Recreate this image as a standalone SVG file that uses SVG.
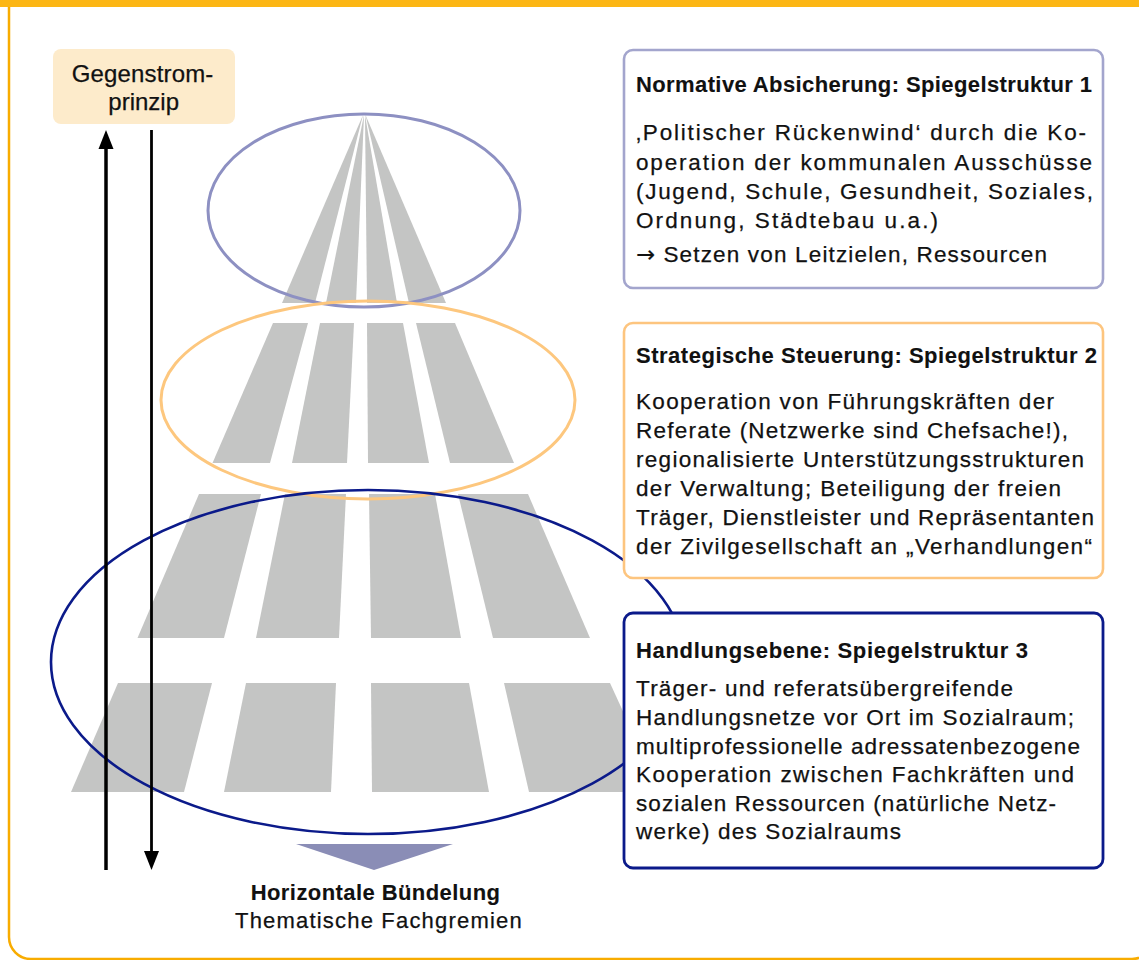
<svg xmlns="http://www.w3.org/2000/svg" width="1139" height="960" viewBox="0 0 1139 960">
<style>
  .t { font-family: "Liberation Sans", Arial, sans-serif; font-size: 22.5px; fill: #111; stroke: #111; stroke-width: 0.25px; }
  .b { font-weight: bold; font-size: 22px; stroke-width: 0.1px; }
  .big { font-size: 22px; }
  .g { font-size: 24px; }
  .arr { font-family: "DejaVu Sans", sans-serif; }
  .stripe { fill: #C4C5C4; }
  .ell { fill: none; }
  .box { fill: #fff; }
  .ln { stroke: #000; fill: none; }
  .head { fill: #000; }
</style>
<rect width="1139" height="960" fill="#fff"/>
<g id="frame">
  <rect x="9" y="-30" width="1145" height="989" rx="22" fill="none" stroke="#F8AC00" stroke-width="2.5"/>
  <rect x="0" y="0" width="1139" height="7" fill="#FCB614"/>
</g>
<g id="pyramid">
  <g id="tier1">
    <polygon class="stripe" points="363,115 315,303 282,303"/>
    <polygon class="stripe" points="364,115 356,303 326,303"/>
    <polygon class="stripe" points="365,115 397,303 367,303"/>
    <polygon class="stripe" points="365.5,115 446,303 409,303"/>
  </g>
  <g id="tier2">
    <polygon class="stripe" points="273,323 308,323 270,463 212.5,463"/>
    <polygon class="stripe" points="320,323 354,323 347,463 292,463"/>
    <polygon class="stripe" points="367,323 403,323 429,463 368,463"/>
    <polygon class="stripe" points="416,323 455,323 514,463 450,463"/>
  </g>
  <g id="tier3">
    <polygon class="stripe" points="199,494 261,494 224,638 137.5,638"/>
    <polygon class="stripe" points="285,494 346,494 339,638 256,638"/>
    <polygon class="stripe" points="369,494 435,494 461,638 371,638"/>
    <polygon class="stripe" points="458,494 528,494 590,638 493,638"/>
  </g>
  <g id="tier4">
    <polygon class="stripe" points="118,683 212,683 184,792 71,792"/>
    <polygon class="stripe" points="246,683 336,683 331,792 224,792"/>
    <polygon class="stripe" points="371,683 469,683 489,792 372,792"/>
    <polygon class="stripe" points="504,683 610,683 660,792 529,792"/>
  </g>
</g>
<g id="ellipse-1"><ellipse class="ell" cx="364" cy="210.5" rx="156" ry="96.5" stroke="#8D90C2" stroke-width="3"/></g>
<g id="ellipse-2"><ellipse class="ell" cx="368" cy="400" rx="207" ry="99" stroke="#FDC77E" stroke-width="3"/></g>
<g id="ellipse-3"><ellipse class="ell" cx="368" cy="662" rx="317" ry="172" stroke="#0B1A8A" stroke-width="2.6"/></g>
<g id="triangle"><polygon points="296,844 453,844 374,870" fill="#8A8DB6"/></g>

<g id="connectors">
  <line class="ln" x1="106" y1="870" x2="106" y2="146" stroke-width="3.5"/>
  <polygon class="head" points="106,130 98.5,149 113.5,149"/>
  <line class="ln" x1="151.5" y1="130" x2="151.5" y2="854" stroke-width="2.8"/>
  <polygon class="head" points="151.5,870 144,851 159,851"/>
</g>

<g id="gegenstrom">
  <rect x="53" y="49" width="182" height="75" rx="8" fill="#FDEBCB"/>
  <text class="t g" x="71.7" y="81.7" textLength="141.6">Gegenstrom-</text>
  <text class="t g" x="108.3" y="110" textLength="70.7">prinzip</text>
</g>

<g id="box-1">
  <rect class="box" x="624" y="50" width="479" height="238" rx="9" stroke="#A3A5CD" stroke-width="2.6"/>
  <text class="t b" x="636" y="92" textLength="456">Normative Absicherung: Spiegelstruktur 1</text>
  <text class="t" x="636" y="140" textLength="450">‚Politischer Rückenwind‘ durch die Ko-</text>
  <text class="t" x="636" y="169.5" textLength="456">operation der kommunalen Ausschüsse</text>
  <text class="t" x="636" y="199" textLength="457">(Jugend, Schule, Gesundheit, Soziales,</text>
  <text class="t" x="636" y="228" textLength="302">Ordnung, Städtebau u.a.)</text>
  <text class="t" x="636" y="262" textLength="411"><tspan class="arr">→</tspan> Setzen von Leitzielen, Ressourcen</text>
</g>

<g id="box-2">
  <rect class="box" x="624" y="323" width="479" height="255" rx="9" stroke="#FDC57F" stroke-width="2.6"/>
  <text class="t b" x="636" y="363" textLength="461">Strategische Steuerung: Spiegelstruktur 2</text>
  <text class="t" x="636" y="409" textLength="418">Kooperation von Führungskräften der</text>
  <text class="t" x="636" y="438" textLength="432">Referate (Netzwerke sind Chefsache!),</text>
  <text class="t" x="636" y="467" textLength="448">regionalisierte Unterstützungsstrukturen</text>
  <text class="t" x="636" y="496" textLength="425">der Verwaltung; Beteiligung der freien</text>
  <text class="t" x="636" y="525" textLength="458">Träger, Dienstleister und Repräsentanten</text>
  <text class="t" x="636" y="554" textLength="456">der Zivilgesellschaft an „Verhandlungen“</text>
</g>

<g id="box-3">
  <rect class="box" x="624" y="613" width="479" height="255" rx="9" stroke="#0B1A8A" stroke-width="2.8"/>
  <text class="t b" x="636" y="658" textLength="392">Handlungsebene: Spiegelstruktur 3</text>
  <text class="t" x="636" y="696" textLength="377">Träger- und referatsübergreifende</text>
  <text class="t" x="636" y="725" textLength="438">Handlungsnetze vor Ort im Sozialraum;</text>
  <text class="t" x="636" y="753.5" textLength="444">multiprofessionelle adressatenbezogene</text>
  <text class="t" x="636" y="782" textLength="438">Kooperation zwischen Fachkräften und</text>
  <text class="t" x="636" y="810.5" textLength="420">sozialen Ressourcen (natürliche Netz-</text>
  <text class="t" x="636" y="839" textLength="265">werke) des Sozialraums</text>
</g>

<g id="bottom-label">
  <text class="t b big" x="250.7" y="900" textLength="249.3">Horizontale Bündelung</text>
  <text class="t big" x="235" y="928" textLength="286.7">Thematische Fachgremien</text>
</g>
</svg>
